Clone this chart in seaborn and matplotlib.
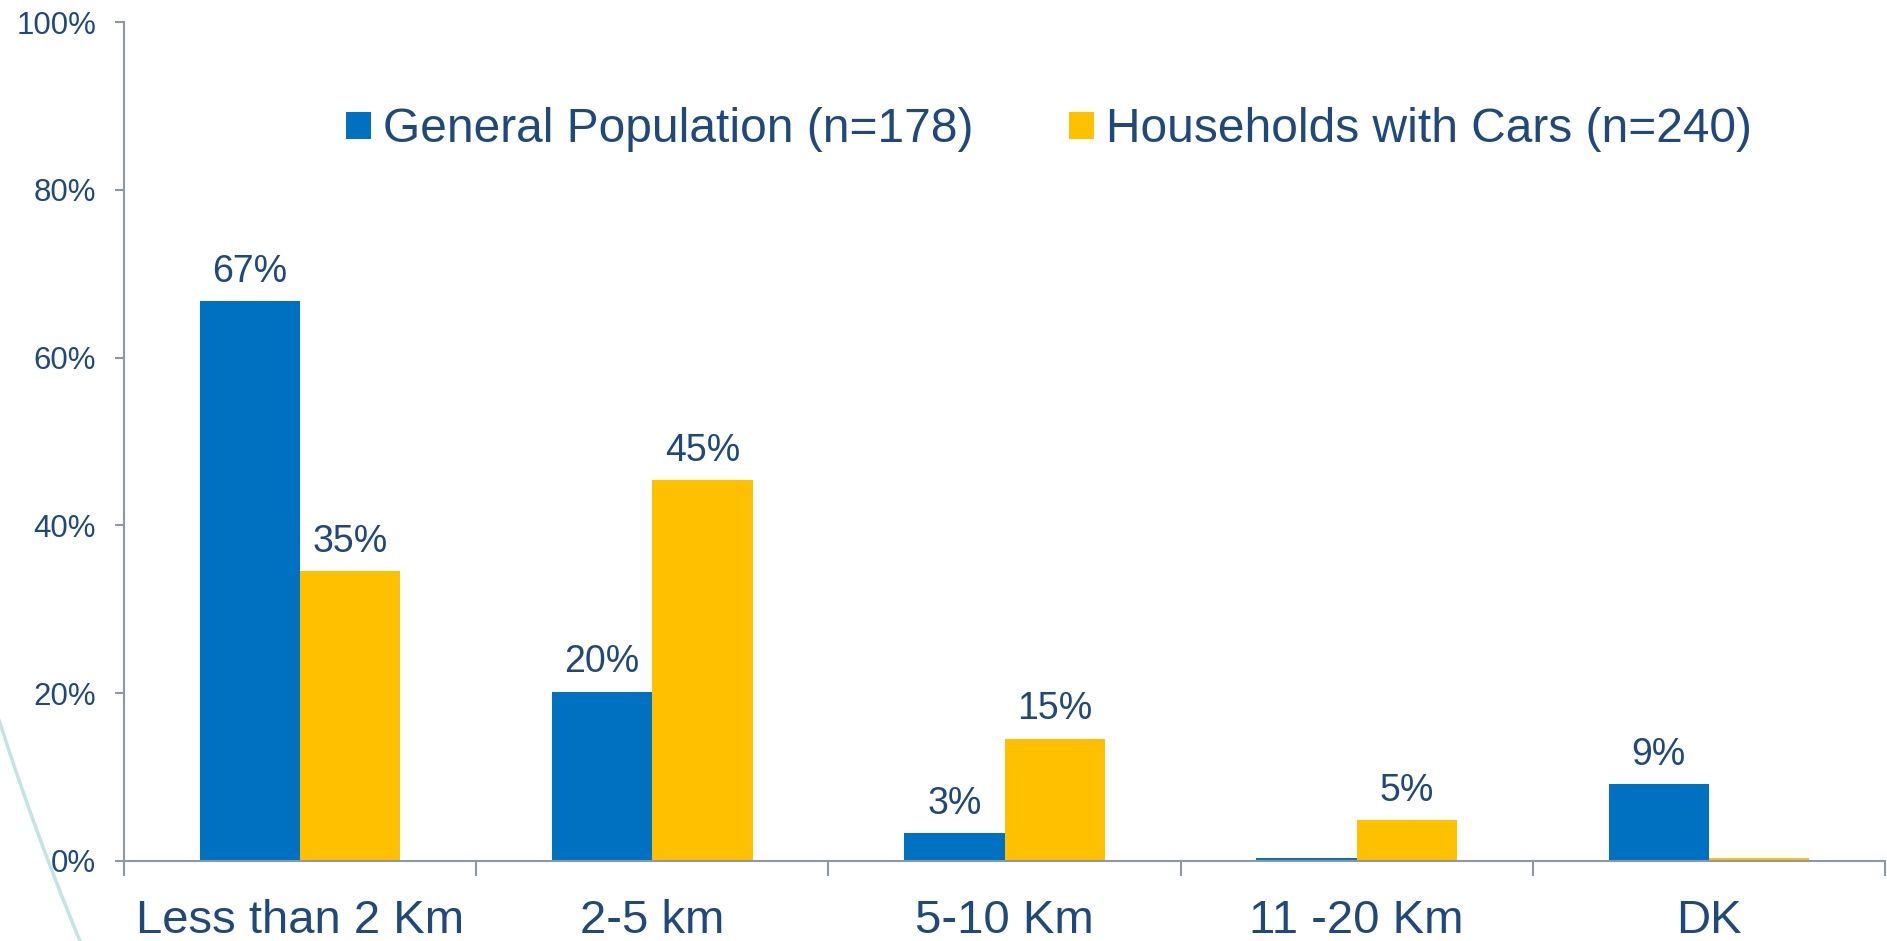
import numpy as np
import pandas as pd
import seaborn as sns
from matplotlib import pyplot as plt
from matplotlib.lines import Line2D
from matplotlib.patches import Patch
from matplotlib.ticker import FixedLocator, PercentFormatter

DISTANCES = ["Less than 2 Km", "2-5 km", "5-10 Km", "11 -20 Km", "DK"]
GROUPS = ["General Population (n=178)", "Households with Cars (n=240)"]
GENERAL = [66.7, 20.2, 3.3, 0.4, 9.2]
CARS = [34.6, 45.4, 14.6, 4.9, 0.4]
GENERAL_LABELS = ["67%", "20%", "3%", "", "9%"]
CARS_LABELS = ["35%", "45%", "15%", "5%", ""]
Y_TICKS = [0, 20, 40, 60, 80, 100]

PALETTE = {GROUPS[0]: "#0070C0", GROUPS[1]: "#FFC000"}
TEXT = "#1F497D"
AXIS = "#8D97AA"

W, H = 1887, 941

sns.set_style("white")
plt.rcParams["font.family"] = ["Liberation Sans", "DejaVu Sans"]

df = pd.DataFrame({
    "Distance": DISTANCES * 2,
    "Share": GENERAL + CARS,
    "Group": [GROUPS[0]] * len(DISTANCES) + [GROUPS[1]] * len(DISTANCES),
})

fig = plt.figure(figsize=(W / 100, H / 100), dpi=100)
ax = fig.add_axes([124 / W, 1 - 861 / H, (1885 - 124) / W, (861 - 22) / H])

sns.barplot(
    data=df,
    x="Distance",
    y="Share",
    hue="Group",
    order=DISTANCES,
    hue_order=GROUPS,
    palette=PALETTE,
    width=0.57,
    saturation=1,
    linewidth=0,
    legend=False,
    ax=ax,
)

for container, labels in zip(ax.containers, [GENERAL_LABELS, CARS_LABELS]):
    ax.bar_label(container, labels=labels, padding=8, fontsize=27, color=TEXT)

ax.set_xlim(-0.5, len(DISTANCES) - 0.5)
ax.set_ylim(0, 100)
ax.set_xlabel("")
ax.set_ylabel("")

for side in ["top", "right"]:
    ax.spines[side].set_visible(False)
for side in ["left", "bottom"]:
    ax.spines[side].set_color(AXIS)
    ax.spines[side].set_linewidth(1.5)

ax.yaxis.set_major_locator(FixedLocator(Y_TICKS))
ax.yaxis.set_major_formatter(PercentFormatter(decimals=0))
ax.tick_params(axis="y", direction="out", length=6.5, width=1.5, color=AXIS,
               pad=13.5, labelsize=22.5, labelcolor=TEXT, left=True)
ax.set_xticks(np.arange(len(DISTANCES) + 1) - 0.5, minor=True)
ax.tick_params(axis="x", which="major", length=0, pad=27.5, labelsize=34, labelcolor=TEXT)
ax.tick_params(axis="x", which="minor", direction="out", length=11, width=1.5,
               color=AXIS, bottom=True)

handles = [Patch(facecolor=PALETTE[g], edgecolor="none", label=g) for g in GROUPS]
fig.legend(
    handles=handles,
    loc="center left",
    bbox_to_anchor=(346 / W, 1 - 130 / H),
    ncol=2,
    frameon=False,
    fontsize=34.5,
    handlelength=0.52,
    handleheight=0.52,
    handletextpad=0.25,
    columnspacing=2.0,
    borderpad=0,
    borderaxespad=0,
    labelcolor=TEXT,
)

# decorative swoosh in the lower-left corner
yy = np.linspace(700, H, 60)
xx = 0.000214 * (yy - 723) ** 2 + 0.3203 * (yy - 723)
fig.add_artist(Line2D(xx / W, 1 - yy / H, transform=fig.transFigure,
                      color="#C2E4E4", lw=2.5, zorder=0))

fig.savefig("out.png", dpi=100)
